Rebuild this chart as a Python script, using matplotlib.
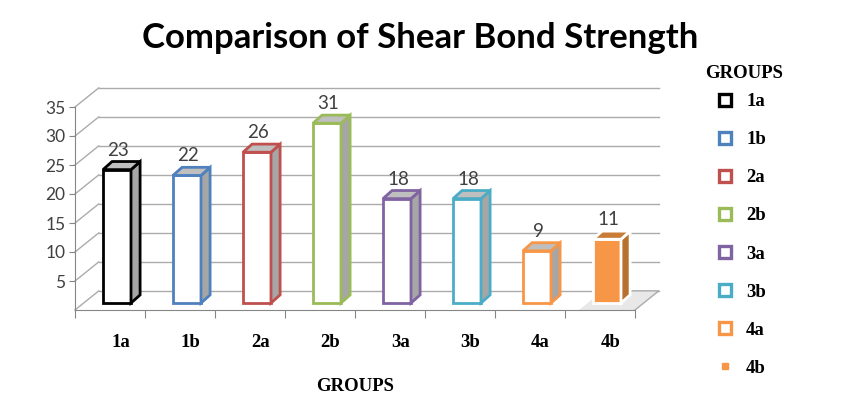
import matplotlib.pyplot as plt
from matplotlib.patches import Polygon
from matplotlib.lines import Line2D

# data
groups = ['1a', '1b', '2a', '2b', '3a', '3b', '4a', '4b']
strength = [23, 22, 26, 31, 18, 18, 9, 11]
edge_colors = ['#000000', '#4F81BD', '#C0504D', '#9BBB59',
               '#8064A2', '#4BACC6', '#F79646', '#F79646']
y_ticks = [5, 10, 15, 20, 25, 30, 35]

# fake 3d geometry (data units)
DX, DY = 0.34, 3.3        # depth of back wall
BX, BY = 0.10, 1.2        # bar set back from front
BDX, BDY = 0.13, 1.4      # bar depth
BW = 0.40
grid_col = '#ABABAB'
serif_b = {'family': 'Liberation Serif', 'weight': 'bold', 'size': 13.5}

fig = plt.figure(figsize=(8.42, 3.99), dpi=100)
ax = fig.add_axes([75 / 842, 89 / 399, 560 / 842, 203 / 399])
ax.set_xlim(-0.5, 7.5)
ax.set_ylim(0, 35)

# back wall gridlines + left wall diagonals
for t in [0] + y_ticks:
    ax.plot([-0.5 + DX, 7.5 + DX], [t + DY, t + DY], color=grid_col, lw=1,
            clip_on=False, zorder=1)
    ax.plot([-0.5, -0.5 + DX], [t, t + DY], color=grid_col, lw=1,
            clip_on=False, zorder=1)

# floor (right part)
ax.add_patch(Polygon([(6.7, 0), (7.5, 0), (7.5 + DX, DY), (6.7 + DX, DY)],
                     closed=True, facecolor='#E8E8E8', edgecolor='none',
                     clip_on=False, zorder=1))
ax.plot([7.5, 7.5 + DX, 6.9 + DX], [0, DY, DY], color=grid_col, lw=1,
        clip_on=False, zorder=1)

x = list(range(len(groups)))
for i, v in enumerate(strength):
    xc = x[i] + BX
    l, r = xc - BW / 2, xc + BW / 2
    col = edge_colors[i]
    if groups[i] == '4b':
        face, side, top, ec = '#F79646', '#B8702F', '#C97B38', 'white'
    else:
        face, side, top, ec = 'white', '#A6A6A6', '#BFBFBF', col
    ax.bar(xc, v, width=BW, bottom=BY, facecolor=face, edgecolor=ec,
           linewidth=2, zorder=3)
    ax.add_patch(Polygon([(r, BY), (r + BDX, BY + BDY), (r + BDX, BY + v + BDY),
                          (r, BY + v)], closed=True, facecolor=side,
                         edgecolor=ec, lw=2, zorder=3, clip_on=False))
    ax.add_patch(Polygon([(l, BY + v), (l + BDX, BY + v + BDY),
                          (r + BDX, BY + v + BDY), (r, BY + v)], closed=True,
                         facecolor=top, edgecolor=ec, lw=2, zorder=3,
                         clip_on=False))
    ax.text(xc + 0.02, BY + v + BDY + 0.5, str(v), ha='center', va='bottom',
            fontsize=13.5, color='#404040', family='Lato', zorder=4)

# axes styling
for s in ['top', 'right']:
    ax.spines[s].set_visible(False)
for s in ['left', 'bottom']:
    ax.spines[s].set_color('#868686')
ax.set_yticks(y_ticks)
ax.set_yticklabels([str(t) for t in y_ticks], fontsize=12.5, color='#404040',
                   family='Lato')
ax.tick_params(axis='y', length=4, color='#868686', pad=3)
ax.set_xticks([i - 0.5 for i in range(len(groups) + 1)])
ax.set_xticklabels([])
ax.tick_params(axis='x', which='major', length=6, color='#868686')
ax.set_xticks([i + 0.15 for i in x], minor=True)
ax.set_xticklabels(groups, minor=True, fontproperties=serif_b)
ax.tick_params(axis='x', which='minor', length=0, pad=17)
ax.set_xlabel('GROUPS', fontproperties=serif_b, labelpad=20)
ax.patch.set_visible(False)

fig.text(420 / 842, 1 - 38 / 399, 'Comparison of Shear Bond Strength',
         ha='center', va='center', fontsize=25, fontweight='bold',
         family='Lato')

# legend
fig.text(705 / 842, 1 - 73 / 399, 'GROUPS', ha='left', va='center',
         fontproperties=serif_b)
handles = []
for g, c in zip(groups, edge_colors):
    if g == '4b':
        h = Line2D([], [], ls='none', marker='s', markersize=5,
                   markerfacecolor=c, markeredgecolor=c)
    else:
        h = Line2D([], [], ls='none', marker='s', markersize=8.5,
                   markerfacecolor='white', markeredgecolor=c,
                   markeredgewidth=2.4)
    handles.append(h)
fig.legend(handles, groups, loc='upper left',
           bbox_to_anchor=(716 / 842, 1 - 93 / 399), frameon=False,
           borderpad=0, borderaxespad=0, labelspacing=1.12,
           handlelength=1.0, handletextpad=0.6, prop=serif_b)

fig.savefig('out.png', dpi=100)
